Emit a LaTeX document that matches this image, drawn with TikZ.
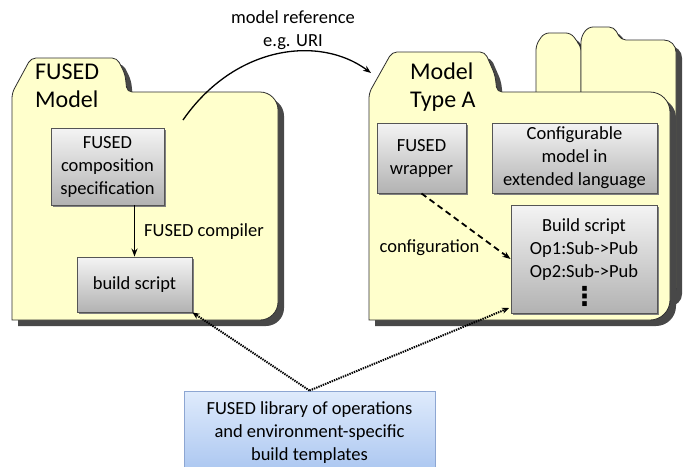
\documentclass[tikz,border=0pt]{standalone}
\usepackage{fontspec}
\setmainfont{Carlito}
\newfontfamily\symfont{DejaVu Sans}
\usetikzlibrary{arrows.meta}

\definecolor{folderfill}{HTML}{FFFFCC}
\definecolor{folderline}{HTML}{2E2E2E}
\definecolor{shadowgray}{HTML}{484848}
\definecolor{boxtop}{HTML}{F4F4F4}
\definecolor{boxbottom}{HTML}{B2B2B2}
\definecolor{boxline}{HTML}{555555}
\definecolor{libtop}{HTML}{DFEBFC}
\definecolor{libbottom}{HTML}{A9C5F0}
\definecolor{libline}{HTML}{8DA6D2}

\newcommand\bodyfont{\fontsize{18.5}{23}\selectfont}
\newcommand\titlefont{\fontsize{24}{28}\selectfont}

\begin{document}
\begin{tikzpicture}[x=1pt,y=-1pt,
  folder/.style={fill=folderfill, draw=folderline, line width=0.8pt,
    preaction={fill=shadowgray, transform canvas={shift={(6,6)}}}},
  graybox/.style={draw=boxline, line width=0.9pt, top color=boxtop, bottom color=boxbottom,
    align=center, inner sep=2pt, font=\bodyfont,
    preaction={fill=black!50, transform canvas={shift={(2,2)}}}},
  libbox/.style={draw=libline, line width=0.9pt, top color=libtop, bottom color=libbottom,
    align=center, inner sep=2pt, font=\bodyfont},
  foldertitle/.style={font=\titlefont, align=left, inner sep=0pt},
  lbl/.style={font=\bodyfont, align=center, inner sep=0pt},
  conn/.style={line width=1.3pt, -{Stealth[length=8pt,width=6pt]}},
  dashconn/.style={line width=1.8pt, dash pattern=on 6pt off 4pt, -{Stealth[length=8pt,width=6pt]}},
  dotconn/.style={line width=2pt, dash pattern=on 1.4pt off 1pt, -{Stealth[length=7pt,width=6pt]}}
]
\useasboundingbox (0,0) rectangle (688,466);
\clip (0,0) rectangle (688,466);
\fill[white] (0,0) rectangle (688,466);

% left folder
\path[folder, rounded corners=5pt] (12,320) -- (12,93) -- (31,58) -- (117,58) -- (125,74) -- (127,92)
  [rounded corners=18pt] -- (278,92) -- (278,320) [sharp corners] -- cycle;

% stacked folders behind the right one
\path[folder, rounded corners=5pt] (536,300) -- (536,45) -- (544,33) -- (571,33) -- (579,44) -- (581,46) [sharp corners] -- (581,300) -- cycle;
\path[folder, rounded corners=5pt] (581,300) -- (581,37) -- (588,27) -- (614,27) -- (621,40)
  [rounded corners=12pt] -- (676,40) -- (676,300) [sharp corners] -- cycle;

% right folder
\path[folder, rounded corners=5pt] (369,320) -- (369,93) -- (392,52) -- (485,52) -- (495,75) -- (497,92)
  [rounded corners=20pt] -- (670,92) -- (670,320) [sharp corners] -- cycle;

% folder titles
\node[foldertitle, anchor=west] (ftitle) at (35,86) {FUSED\\Model};
\node[foldertitle, anchor=west] (mtitle) at (410,87.5) {Model\\Type A};

% boxes in the FUSED model folder
\node[graybox, minimum width=113pt, minimum height=77pt] (spec) at (107.5,166.5) {FUSED\\composition\\specification};
\node[graybox, minimum width=115pt, minimum height=55pt] (build) at (134.5,284.5) {build script};

% boxes in the model type folder
\node[graybox, minimum width=89pt, minimum height=70pt] (wrapper) at (421.5,158) {FUSED\\wrapper};
\node[graybox, minimum width=165pt, minimum height=70pt] (config) at (574.5,158) {Configurable\\model in\\extended language};
\node[graybox, minimum width=146pt, minimum height=108pt] (buildR) at (584,259) {};
\node[lbl] (buildRtxt) at (584,250) {Build script\\Op1:Sub->Pub\\Op2:Sub->Pub};
\node[lbl, font=\symfont\bfseries\fontsize{26}{26}\selectfont] (buildRdots) at (584.5,296) {⋮};

% library box
\node[libbox, minimum width=251pt, minimum height=84pt] (lib) at (309.5,433) {FUSED library of operations\\and environment-specific\\build templates};

% connectors
\draw[conn] (build.north |- spec.south) -- (build.north);
\node[lbl] (compilerlbl) at (204,232) {FUSED compiler};

\coordinate (refstart) at (183,120);
\coordinate (reftip) at (371,73);
\draw[conn] (refstart) .. controls (235,45) and (320,35) .. (reftip);
\node[lbl] (reflbl) at (293,30.5) {model reference\\e.g. URI};

\draw[dashconn] (wrapper.south) -- (buildR.west);
\node[lbl] (cfglbl) at (429.5,248) {configuration};

\coordinate (buildRin) at (509,308);
\draw[dotconn] (lib.north) -- (build.south east);
\draw[dotconn] (lib.north) -- (buildRin);
\end{tikzpicture}
\end{document}
